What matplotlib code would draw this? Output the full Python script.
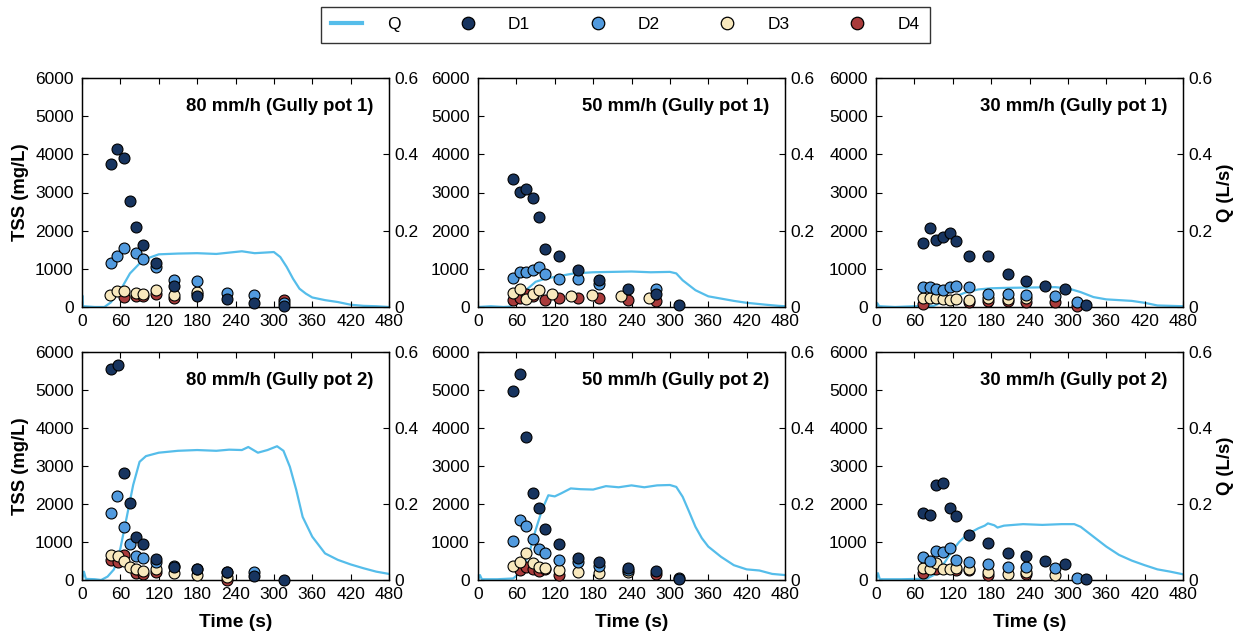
import matplotlib.pyplot as plt
from matplotlib.lines import Line2D
from matplotlib.ticker import FuncFormatter

plt.rcParams['font.family'] = ['Liberation Sans', 'DejaVu Sans']

titles = ["80 mm/h (Gully pot 1)", "50 mm/h (Gully pot 1)", "30 mm/h (Gully pot 1)",
          "80 mm/h (Gully pot 2)", "50 mm/h (Gully pot 2)", "30 mm/h (Gully pot 2)"]

# flow Q (L/s)
q_t = [
    [0, 0.5, 1, 2, 20, 35, 45, 60, 75, 90, 105, 120, 150, 180, 210, 250, 270, 300,
     310, 320, 330, 340, 350, 360, 380, 400, 420, 440, 460, 480],
    [0, 20, 40, 50, 60, 75, 90, 105, 120, 150, 180, 210, 240, 270, 300, 310, 320,
     340, 360, 380, 400, 420, 450, 470, 480],
    [0, 2, 5, 30, 60, 90, 100, 120, 140, 160, 180, 200, 240, 280, 300, 320, 340,
     360, 380, 400, 420, 440, 460, 480],
    [0, 3, 6, 20, 30, 40, 50, 60, 70, 80, 90, 100, 120, 150, 180, 210, 230, 250,
     260, 275, 290, 305, 315, 325, 335, 345, 360, 380, 400, 420, 440, 460, 480],
    [0, 3, 6, 30, 55, 60, 70, 80, 90, 100, 110, 120, 130, 145, 160, 180, 200, 220,
     240, 260, 280, 300, 310, 320, 330, 340, 350, 360, 380, 400, 420, 440, 460, 480],
    [0, 3, 6, 40, 70, 80, 90, 100, 110, 120, 130, 140, 150, 160, 170, 175, 185, 190,
     200, 230, 260, 290, 310, 320, 340, 360, 380, 400, 420, 440, 460, 480],
]
q_v = [
    [0.0, 0.03, 0.0, 0.002, 0.0, 0.0, 0.012, 0.044, 0.088, 0.114, 0.129, 0.138, 0.14,
     0.141, 0.139, 0.146, 0.141, 0.144, 0.131, 0.105, 0.074, 0.048, 0.035, 0.025,
     0.018, 0.013, 0.006, 0.003, 0.002, 0.0],
    [0.0, 0.002, 0.0, 0.001, 0.013, 0.044, 0.066, 0.074, 0.079, 0.088, 0.091, 0.092,
     0.093, 0.091, 0.092, 0.088, 0.07, 0.044, 0.028, 0.022, 0.016, 0.011, 0.006,
     0.003, 0.002],
    [0.0, 0.01, 0.002, 0.0, 0.002, 0.003, 0.01, 0.025, 0.038, 0.046, 0.049, 0.05,
     0.051, 0.052, 0.049, 0.039, 0.026, 0.02, 0.018, 0.016, 0.011, 0.004, 0.003,
     0.002],
    [0.0, 0.022, 0.003, 0.002, 0.0, 0.009, 0.028, 0.083, 0.166, 0.25, 0.311, 0.326,
     0.335, 0.34, 0.342, 0.34, 0.343, 0.342, 0.35, 0.335, 0.342, 0.352, 0.34, 0.298,
     0.237, 0.166, 0.114, 0.07, 0.053, 0.041, 0.031, 0.022, 0.016],
    [0.0, 0.013, 0.002, 0.002, 0.004, 0.011, 0.033, 0.07, 0.131, 0.184, 0.223, 0.22,
     0.228, 0.241, 0.239, 0.238, 0.247, 0.244, 0.249, 0.244, 0.249, 0.25, 0.245,
     0.219, 0.18, 0.14, 0.11, 0.088, 0.061, 0.039, 0.028, 0.025, 0.016, 0.013],
    [0.0, 0.018, 0.002, 0.002, 0.003, 0.004, 0.013, 0.028, 0.053, 0.079, 0.1, 0.116,
     0.127, 0.136, 0.143, 0.149, 0.144, 0.138, 0.143, 0.147, 0.145, 0.147, 0.147,
     0.14, 0.114, 0.088, 0.066, 0.051, 0.039, 0.028, 0.022, 0.015],
]

# TSS samples (mg/L): times and values for D1..D4 in each panel
d1_t = [[45, 55, 65, 75, 85, 95, 115, 144, 180, 226, 269, 316],
        [55, 65, 75, 86, 96, 105, 126, 156, 189, 234, 278, 315],
        [74, 85, 94, 105, 115, 125, 145, 175, 206, 235, 265, 295, 329],
        [45, 56, 65, 75, 85, 95, 115, 144, 180, 226, 269, 316],
        [55, 66, 75, 86, 96, 105, 126, 156, 189, 234, 278, 315],
        [74, 85, 94, 105, 115, 125, 145, 175, 206, 235, 265, 295, 329]]
d1_v = [[3740, 4135, 3916, 2768, 2085, 1612, 1150, 540, 300, 200, 110, 20],
        [3355, 3020, 3080, 2865, 2356, 1524, 1332, 980, 720, 460, 350, 40],
        [1680, 2067, 1750, 1840, 1945, 1735, 1330, 1330, 875, 675, 550, 470, 60],
        [5563, 5650, 2803, 2032, 1130, 955, 560, 340, 300, 220, 115, 0],
        [4967, 5414, 3767, 2295, 1883, 1331, 955, 587, 464, 315, 245, 26],
        [1770, 1700, 2497, 2540, 1900, 1682, 1191, 981, 700, 630, 508, 411, 26]]

d2_t = [[45, 55, 65, 85, 95, 115, 144, 180, 226, 269, 316],
        [55, 65, 75, 86, 96, 105, 126, 156, 189, 278],
        [74, 85, 94, 105, 115, 125, 145, 175, 206, 235, 280, 314],
        [45, 55, 65, 75, 85, 95, 115, 144, 180, 226, 269],
        [55, 65, 75, 86, 96, 105, 126, 156, 189, 234, 315],
        [74, 85, 94, 105, 115, 125, 145, 175, 206, 235, 280, 314]]
d2_v = [[1156, 1330, 1550, 1420, 1260, 1050, 700, 690, 370, 315, 110],
        [770, 910, 910, 960, 1050, 875, 735, 745, 590, 470],
        [525, 535, 480, 455, 525, 550, 525, 350, 350, 325, 300, 140],
        [1760, 2216, 1393, 937, 640, 578, 473, 368, 290, 200, 220],
        [1025, 1577, 1420, 1069, 806, 718, 517, 464, 368, 263, 44],
        [595, 508, 762, 727, 832, 525, 482, 411, 350, 341, 315, 52]]

d3_t = [[44, 55, 65, 85, 95, 115, 144, 180],
        [55, 65, 75, 86, 96, 115, 145, 179, 224, 268],
        [74, 85, 94, 105, 115, 125, 145, 175, 206, 235],
        [45, 56, 65, 75, 85, 95, 115, 144, 180, 226],
        [55, 65, 75, 86, 96, 105, 126, 156, 189, 234],
        [74, 85, 94, 105, 115, 125, 145, 175, 206, 235, 280]]
d3_v = [[320, 420, 410, 370, 350, 440, 310, 380],
        [375, 480, 220, 350, 440, 340, 300, 310, 300, 245],
        [245, 230, 245, 210, 195, 210, 195, 245, 210, 230],
        [657, 640, 500, 342, 280, 236, 280, 193, 131, 79],
        [368, 482, 700, 438, 350, 324, 263, 200, 193, 200],
        [315, 280, 438, 298, 280, 324, 298, 200, 158, 210, 140]]

d4_t = [[65, 85, 95, 115, 144, 180, 316],
        [55, 65, 75, 86, 105, 126, 156, 189, 234, 278],
        [74, 145, 175, 206, 235, 280, 314],
        [45, 56, 65, 85, 95, 115, 226],
        [65, 75, 86, 96, 105, 126, 278],
        [74, 94, 125, 145, 175, 235]]
d4_v = [[260, 300, 290, 350, 240, 350, 190],
        [175, 245, 350, 300, 190, 245, 245, 245, 185, 160],
        [90, 130, 160, 160, 120, 120, 35],
        [525, 482, 657, 175, 150, 200, 0],
        [263, 333, 298, 236, 280, 131, 150],
        [175, 280, 263, 263, 131, 150]]

c_q = '#55bdea'
c_d = ['#17345f', '#519ade', '#f8e8bd', '#a93b3b']

fig = plt.figure(figsize=(12.38, 6.39), dpi=100)

lefts = [82, 478, 876]
W, H = 1238, 639
rows = [(78, 307), (352, 580)]

for i in range(6):
    r, c = divmod(i, 3)
    top, bot = rows[r]
    ax = fig.add_axes([lefts[c] / W, 1 - bot / H, 307 / W, (bot - top) / H])
    ax2 = ax.twinx()
    ax.set_zorder(ax2.get_zorder() + 1)
    ax.patch.set_visible(False)

    ax2.plot(q_t[i], q_v[i], color=c_q, lw=1.6)

    for tt, vv, col in zip([d4_t, d3_t, d2_t, d1_t], [d4_v, d3_v, d2_v, d1_v], c_d[::-1]):
        ax.scatter(tt[i], vv[i], s=62, c=col, edgecolors='black', linewidths=0.8,
                   zorder=3, clip_on=False)

    ax.set_xlim(0, 480)
    ax.set_ylim(0, 6000)
    ax2.set_ylim(0, 0.6)
    ax.set_xticks(range(0, 481, 60))
    ax.set_yticks(range(0, 6001, 1000))
    ax2.set_yticks([0, 0.2, 0.4, 0.6])
    ax2.yaxis.set_major_formatter(FuncFormatter(lambda v, p: '0' if v == 0 else f'{v:.1f}'))

    ax.tick_params(axis='x', direction='in', length=4, width=0.8, labelsize=12.5,
                   top=True, pad=5)
    ax.tick_params(axis='y', direction='in', length=4, width=0.8, labelsize=12.5, pad=6)
    ax2.tick_params(direction='in', length=4, width=0.8, labelsize=12.5, pad=4)
    for a in (ax, ax2):
        for s in a.spines.values():
            s.set_linewidth(0.9)

    ax.text(0.95, 0.875, titles[i], transform=ax.transAxes, ha='right', va='center',
            fontsize=13.3, fontweight='bold')
    if c == 0:
        ax.set_ylabel('TSS (mg/L)', fontsize=13.3, fontweight='bold', labelpad=4)
    if c == 2:
        ax2.set_ylabel('Q (L/s)', fontsize=13.3, fontweight='bold', labelpad=3)
    if r == 1:
        ax.set_xlabel('Time (s)', fontsize=13.8, fontweight='bold', labelpad=9)

handles = [Line2D([], [], color=c_q, lw=3)]
for col in c_d:
    handles.append(Line2D([], [], ls='none', marker='o', markersize=9,
                          markerfacecolor=col, markeredgecolor='black', markeredgewidth=0.9))
leg = fig.legend(handles, ['Q', 'D1', 'D2', 'D3', 'D4'], loc='center',
                 bbox_to_anchor=(0.505, 0.961), ncol=5, fontsize=12.5, frameon=True,
                 fancybox=False, edgecolor='black', handlelength=1.8, handletextpad=1.4,
                 columnspacing=3.0, borderpad=0.6)
leg.get_frame().set_linewidth(1.0)

fig.savefig('out.png', dpi=100)
